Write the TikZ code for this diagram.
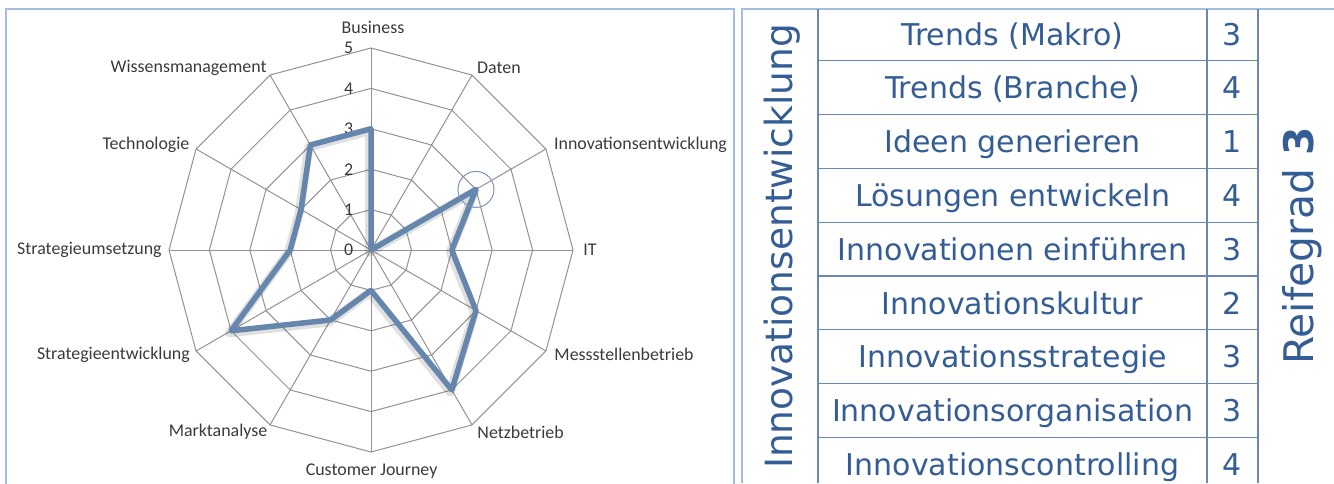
\documentclass[tikz,border=0pt]{standalone}
\usepackage{fontspec}
\setmainfont{DejaVu Sans}
\newfontfamily\chartfont{Carlito}
\usetikzlibrary{positioning}

\definecolor{framebl}{HTML}{A4BCDD}
\definecolor{gridgr}{HTML}{929292}
\definecolor{databl}{HTML}{6587AD}
\definecolor{circbl}{HTML}{7B93B8}
\definecolor{txtbl}{HTML}{345D96}
\definecolor{linebl}{HTML}{6A86B3}
\definecolor{labgr}{HTML}{3A3A3A}

\tikzset{
  axlabel/.style={font=\chartfont\fontsize{17.9}{20}\selectfont, text=labgr, inner sep=0pt},
  scalelabel/.style={axlabel, anchor=east},
  web/.style={gridgr, line width=1pt},
  dataline/.style={databl, line width=5.5pt, line join=round},
  shadowline/.style={black, opacity=0.12, line width=9pt, line join=round},
  cell/.style={font=\fontsize{30}{34}\selectfont, text=txtbl, inner sep=0pt, anchor=base},
  sidelabel/.style={text=txtbl, inner sep=0pt, anchor=base, rotate=90},
  tabline/.style={linebl, line width=1.3pt},
  frame/.style={framebl, line width=2pt},
}

\begin{document}
\begin{tikzpicture}[x=1pt,y=-1pt]
\useasboundingbox (0,0) rectangle (1334,483);

% chart frame
\draw[frame] (6,490) |- (734,9) -- (734,490);

% spider web
\begin{scope}[shift={(371,250)}]
  \foreach \lv in {1,...,5}
    \draw[web] (-90:\lv*40.4) \foreach \i in {1,...,11} { -- (-90+30*\i:\lv*40.4) } -- cycle;
  \foreach \i in {0,...,11}
    \draw[web] (0,0) -- (-90+30*\i:202);
  \foreach \lv in {0,...,5}
    \node[scalelabel] (s\lv) at (-17.5,-\lv*40.4) {\lv};
  % values
  \begin{scope}[xshift=-1.5, yshift=-2]
    \draw[shadowline] (-90:3*40.4) \foreach \v [count=\i] in {0,3,2,3,4,1,2,4,2,2,3} { -- (-90+30*\i:\v*40.4) } -- cycle;
  \end{scope}
  \draw[dataline] (-90:3*40.4) \foreach \v [count=\i] in {0,3,2,3,4,1,2,4,2,2,3} { -- (-90+30*\i:\v*40.4) } -- cycle;
  \node[draw=circbl, line width=1pt, circle, minimum size=36pt, inner sep=0pt] (hl) at (-30:3*40.4) {};
\end{scope}

% axis labels
\node[axlabel] (business) at (373,27.5) {Business};
\node[axlabel] (daten) at (499,68) {Daten};
\node[axlabel] (innov) at (640.5,145) {Innovationsentwicklung};
\node[axlabel] (it) at (590,250) {IT};
\node[axlabel] (mess) at (624,354.7) {Messstellenbetrieb};
\node[axlabel] (netz) at (520.6,432) {Netzbetrieb};
\node[axlabel] (cj) at (371.6,471) {Customer Journey};
\node[axlabel] (markt) at (218,432) {Marktanalyse};
\node[axlabel] (stratent) at (113.4,354.7) {Strategieentwicklung};
\node[axlabel] (stratum) at (89.4,250) {Strategieumsetzung};
\node[axlabel] (techno) at (146,145) {Technologie};
\node[axlabel] (wissen) at (188.6,68) {Wissensmanagement};

% table
\draw[frame] (742,483) |- (1334,9);
\foreach \x in {818,1207,1258}
  \draw[tabline] (\x,9) -- (\x,483);
\foreach \i in {1,...,8}
  \draw[tabline] (818,7+53.8*\i) -- (1258,7+53.8*\i);
\foreach \name/\val [count=\i from 0] in {Trends (Makro)/3, Trends (Branche)/4, Ideen generieren/1, Lösungen entwickeln/4, Innovationen einführen/3, Innovationskultur/2, Innovationsstrategie/3, Innovationsorganisation/3, Innovationscontrolling/4} {
  \node[cell] (n\i) at (1012.5,45+53.8*\i) {\name};
  \node[cell] (v\i) at (1232.5,45+53.8*\i) {\val};
}
\node[sidelabel, font=\fontsize{37.5}{41}\selectfont] (topic) at (792,246.5) {Innovationsentwicklung};
\node[sidelabel, font=\fontsize{40.8}{44}\selectfont] (grade) at (1313,246) {Reifegrad \textbf{3}};
\end{tikzpicture}
\end{document}
